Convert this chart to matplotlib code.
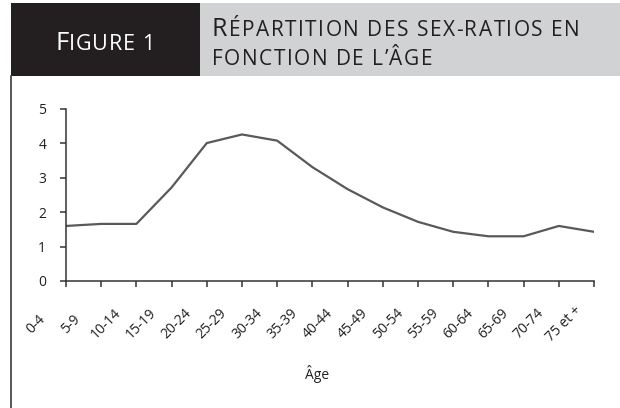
import matplotlib
matplotlib.use('Agg')
import matplotlib.pyplot as plt
import matplotlib.transforms as mtransforms
from matplotlib.patches import Rectangle
from matplotlib.lines import Line2D
from matplotlib.font_manager import FontProperties

# Données
ages = ['0-4', '5-9', '10-14', '15-19', '20-24', '25-29', '30-34', '35-39',
        '40-44', '45-49', '50-54', '55-59', '60-64', '65-69', '70-74', '75 et +']
ratios = [1.60, 1.66, 1.66, 2.72, 4.01, 4.26, 4.08, 3.31,
          2.67, 2.14, 1.72, 1.43, 1.30, 1.30, 1.60, 1.43]
yticks = [0, 1, 2, 3, 4, 5]

W, H = 620, 408
plt.rcParams['font.family'] = ['Open Sans', 'DejaVu Sans']

fig = plt.figure(figsize=(W / 100, H / 100), dpi=100)
fig.patch.set_facecolor('white')

# En-tête : boîte noire + boîte grise
fig.add_artist(Rectangle((11 / W, 1 - 76 / H), 189 / W, 73 / H,
                         transform=fig.transFigure, facecolor='#231f20', edgecolor='none'))
fig.add_artist(Rectangle((200 / W, 1 - 76 / H), 420 / W, 73 / H,
                         transform=fig.transFigure, facecolor='#d1d2d4', edgecolor='none'))
# trait vertical à gauche du cadre
fig.add_artist(Line2D([11 / W, 11 / W], [0, 1 - 76 / H], transform=fig.transFigure,
                      color='#3a3a3a', linewidth=1.2))

renderer = fig.canvas.get_renderer()
HEAD_FONT = 'Open Sans'


def text_w(s, size):
    fp = FontProperties(family=HEAD_FONT, size=size)
    return renderer.get_text_width_height_descent(s, fp, ismath=False)[0]


def caps_layout(parts):
    # liste (caractère, taille, largeur) ; les espaces mesurés par différence
    items = []
    for txt, size in parts:
        for ch in txt:
            if ch == ' ':
                w = text_w('n n', size) - text_w('nn', size)
            else:
                w = text_w(ch, size)
            items.append((ch, size, w))
    return items


def draw_caps(x, y, items, track, color):
    # petites capitales simulées, lettre par lettre avec interlettrage
    for ch, size, w in items:
        if ch != ' ':
            fig.text(x / W, 1 - y / H, ch, fontsize=size, color=color,
                     family=HEAD_FONT, ha='left', va='baseline')
        x += w + track


def fit_track(x0, x1, items):
    total = sum(w for _, _, w in items)
    return (x1 - x0 - total) / (len(items) - 1)


fig_items = caps_layout([('F', 18.5), ('IGURE 1', 15.5)])
draw_caps(55, 50, fig_items, fit_track(55, 154, fig_items), 'white')

line1 = caps_layout([('R', 18), ('ÉPARTITION DES SEX-RATIOS EN', 15)])
line2 = caps_layout([('FONCTION DE L’ÂGE', 15)])
trk = fit_track(212, 580, line1)
draw_caps(212, 36, line1, trk, '#231f20')
draw_caps(212, 65, line2, trk, '#231f20')

# Graphique
ax = fig.add_axes([66 / W, 1 - 281 / H, 528 / W, 172 / H])
x = list(range(len(ages)))
ax.plot(x, ratios, color='#595959', linewidth=1.6)
ax.set_xlim(0, len(ages) - 1)
ax.set_ylim(0, 5)
ax.set_yticks(yticks)
ax.set_xticks(x)
ax.set_xticklabels(ages)

for side in ['top', 'right']:
    ax.spines[side].set_visible(False)
for side in ['left', 'bottom']:
    ax.spines[side].set_color('#333333')
    ax.spines[side].set_linewidth(1.1)

ax.tick_params(axis='both', direction='out', length=4.3, width=1.1, color='#333333',
               labelsize=10, labelcolor='#231f20')
ax.tick_params(axis='y', pad=10)
ax.tick_params(axis='x', pad=26.7)

offset = mtransforms.ScaledTranslation(-0.30, 0, fig.dpi_scale_trans)
for lab in ax.get_xticklabels():
    lab.set_rotation(45)
    lab.set_ha('center')
    lab.set_va('center')
    lab.set_rotation_mode('anchor')
    lab.set_transform(lab.get_transform() + offset)

ax.set_xlabel('Âge', fontsize=10, color='#231f20', va='center')
ax.xaxis.set_label_coords((317 - 66) / 528, -(374 - 281) / 172)

fig.savefig('out.png', dpi=100)
